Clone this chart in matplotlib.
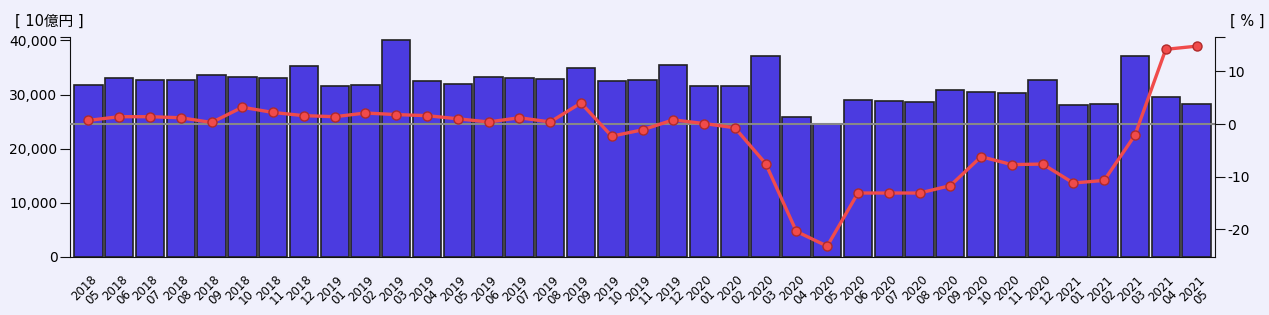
import matplotlib
matplotlib.use("Agg")
import matplotlib.pyplot as plt

plt.rcParams['font.family'] = ['DejaVu Sans', 'Noto Sans CJK JP']

# Data
months = ["2018\n05", "2018\n06", "2018\n07", "2018\n08", "2018\n09", "2018\n10", "2018\n11", "2018\n12",
          "2019\n01", "2019\n02", "2019\n03", "2019\n04", "2019\n05", "2019\n06", "2019\n07", "2019\n08",
          "2019\n09", "2019\n10", "2019\n11", "2019\n12",
          "2020\n01", "2020\n02", "2020\n03", "2020\n04", "2020\n05", "2020\n06", "2020\n07", "2020\n08",
          "2020\n09", "2020\n10", "2020\n11", "2020\n12",
          "2021\n01", "2021\n02", "2021\n03", "2021\n04", "2021\n05"]
amount = [31740, 33150, 32720, 32720, 33590, 33220, 33090, 35190,
          31560, 31740, 40000, 32540, 31980, 33220, 33090, 32850,
          34940, 32480, 32720, 35440,
          31560, 31560, 37040, 25930, 24570, 28960, 28890, 28590,
          30930, 30560, 30260, 32780,
          28090, 28220, 37170, 29630, 28220]
change = [0.7, 1.4, 1.4, 1.2, 0.3, 3.2, 2.2, 1.6,
          1.4, 2.1, 1.8, 1.6, 1.0, 0.4, 1.2, 0.4,
          4.0, -2.3, -1.1, 0.8,
          0.1, -0.7, -7.5, -20.4, -23.2, -13.1, -13.1, -13.1,
          -11.7, -6.2, -7.7, -7.6,
          -11.2, -10.7, -2.1, 14.2, 14.8]

BG = "#F0F0FC"
fig = plt.figure(figsize=(12.69, 3.15), dpi=100, facecolor=BG)
ax = fig.add_axes([70/1269, 1-256.7/315, 1145/1269, 220/315])
ax.set_facecolor(BG)

xs = list(range(len(months)))
ax.bar(xs, amount, width=0.92, color="#4B3BE0", edgecolor="#222222", linewidth=1.2, zorder=2)

LMAX = 40700
ax.set_ylim(0, LMAX)
ax.set_xlim(-0.6, len(months) - 0.4)
ax.set_yticks([0, 10000, 20000, 30000, 40000, LMAX])
ax.set_yticklabels(["0", "10,000", "20,000", "30,000", "40,000", ""])
ax.tick_params(axis='y', labelsize=10, length=7, pad=2, color="#111111")
ax.set_xticks(xs)
ax.set_xticklabels(months, rotation=45, ha='center', va='top', fontsize=8.5,
                   multialignment='center', linespacing=0.95)
ax.tick_params(axis='x', length=0, pad=12)
for s in ["top", "right"]:
    ax.spines[s].set_visible(False)
ax.spines["left"].set_color("#111111")
ax.spines["bottom"].set_color("#111111")

# Right axis (percent change)
ax2 = ax.twinx()
RMIN, RMAX = -25.2, 16.6
ax2.set_ylim(RMIN, RMAX)
ax2.axhline(0, color="#888888", linewidth=1.5, zorder=1)
ax2.plot(xs, change, "-", color="#F04B4B", linewidth=2.4, zorder=3,
         marker="o", markersize=6.5, markerfacecolor="#F04B4B",
         markeredgecolor="#B02A2A", markeredgewidth=1)
ax2.set_yticks([-20, -10, 0, 10, RMAX])
ax2.set_yticklabels(["-20", "-10", "0", "10", ""])
ax2.tick_params(axis='y', labelsize=10, length=7, pad=2, color="#111111")
for s in ["top", "left", "bottom"]:
    ax2.spines[s].set_visible(False)
ax2.spines["right"].set_color("#111111")

fig.text(15/1269, 1-21/315, "[ 10億円 ]", fontsize=10.5, ha='left', va='center')
fig.text(1265/1269, 1-21/315, "[ % ]", fontsize=10.5, ha='right', va='center')

plt.savefig("out.png", dpi=100, facecolor=BG)
